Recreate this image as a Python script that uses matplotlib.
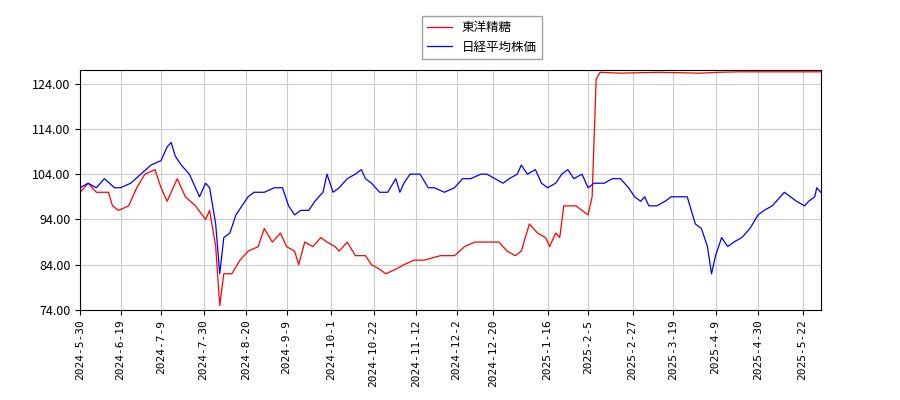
import matplotlib
matplotlib.use("Agg")
import matplotlib.pyplot as plt
import pandas as pd

start = pd.Timestamp("2024-05-30")
red_days = [0,4,8,14,16,19,24,28,32,37,40,43,48,52,57,62,64,67,69,71,75,79,83,88,91,95,99,102,106,108,111,115,119,122,126,128,132,136,141,144,148,151,156,160,165,170,178,185,190,195,202,207,211,215,218,222,226,230,232,235,237,239,242,245,248,251,253,255,257,267,286,296,306,316,326,346,366]
red_vals = [100,102,100,100,97,96,97,101,104,105,101,98,103,99,97,94,96,88,75,82,82,85,87,88,92,89,91,88,87,84,89,88,90,89,88,87,89,86,86,84,83,82,83,84,85,85,86,86,88,89,89,89,87,86,87,93,91,90,88,91,90,97,97,97,96,95,99,125,126.5,126.3,126.5,126.4,126.3,126.5,126.6,126.6,126.6]
blue_days = [0,4,8,12,17,20,25,30,35,40,43,45,47,50,54,57,59,62,64,67,69,71,74,77,80,83,86,91,96,100,103,106,109,113,116,120,122,125,128,132,136,139,141,144,148,152,156,158,160,163,168,172,175,180,185,189,193,198,201,205,209,212,216,218,221,225,228,231,235,238,241,244,248,251,254,259,263,267,271,274,277,279,281,285,289,292,296,300,304,307,310,312,314,317,320,323,327,331,335,338,342,346,348,351,354,358,360,363,364,366]
blue_vals = [101,102,101,103,101,101,102,104,106,107,110,111,108,106,104,101,99,102,101,93,82,90,91,95,97,99,100,100,101,101,97,95,96,96,98,100,104,100,101,103,104,105,103,102,100,100,103,100,102,104,104,101,101,100,101,103,103,104,104,103,102,103,104,106,104,105,102,101,102,104,105,103,104,101,102,102,103,103,101,99,98,99,97,97,98,99,99,99,93,92,88,82,86,90,88,89,90,92,95,96,97,99,100,99,98,97,98,99,101,100]
tick_labels = ["2024-5-30","2024-6-19","2024-7-9","2024-7-30","2024-8-20","2024-9-9","2024-10-1","2024-10-22","2024-11-12","2024-12-2","2024-12-20","2025-1-16","2025-2-5","2025-2-27","2025-3-19","2025-4-9","2025-4-30","2025-5-22"]
y_ticks = [74,84,94,104,114,124]

plt.rcParams['font.family'] = ['Noto Sans CJK JP', 'DejaVu Sans']
fig = plt.figure(figsize=(9,4), dpi=100)
ax = fig.add_axes([0.089, 0.225, 0.823, 0.6])
rd = [start + pd.Timedelta(days=d) for d in red_days]
bd = [start + pd.Timedelta(days=d) for d in blue_days]
ax.plot(rd, red_vals, color="red", lw=0.9, label="東洋精糖")
ax.plot(bd, blue_vals, color="blue", lw=0.9, label="日経平均株価")
ax.set_xlim(start, start + pd.Timedelta(days=366))
ax.set_ylim(74, 127)
ax.set_yticks(y_ticks)
ax.set_yticklabels([f"{v:.2f}" for v in y_ticks], fontsize=9)
tks = [pd.Timestamp(t) for t in tick_labels]
ax.set_xticks(tks)
ax.set_xticklabels(tick_labels, rotation=90, fontsize=8, family='DejaVu Sans Mono')
ax.grid(True, color="#cccccc", lw=0.8)
fig.legend(loc="upper center", bbox_to_anchor=(0.535, 0.975), fontsize=9, fancybox=False, edgecolor="#888888")
fig.savefig("out.png")
